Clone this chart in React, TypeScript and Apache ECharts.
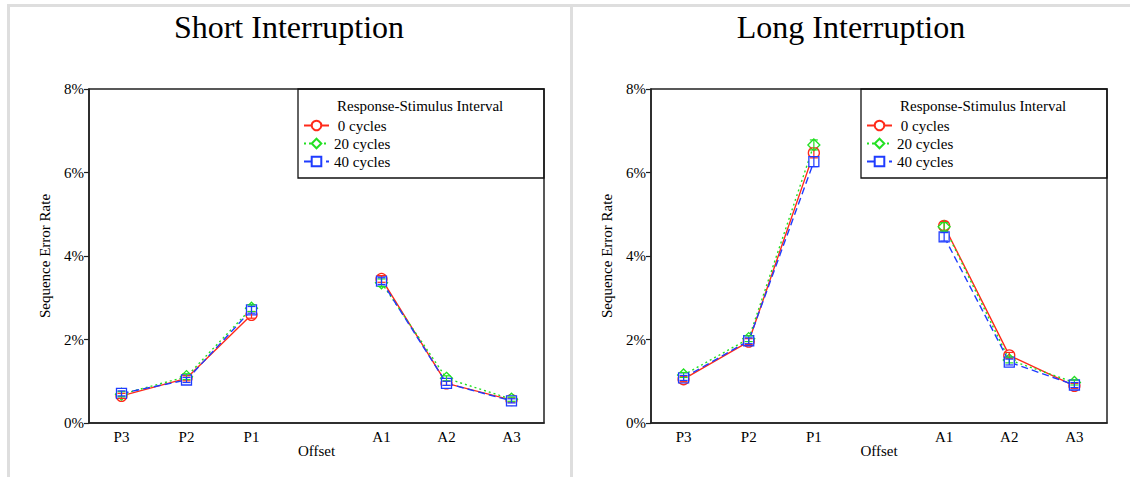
import React, { useEffect, useRef } from 'react';
import * as echarts from 'echarts';

const offsets = ['P3', 'P2', 'P1', '', 'A1', 'A2', 'A3'];
const seriesNames = ['0 cycles', '20 cycles', '40 cycles'];
const panelTitles = ['Short Interruption', 'Long Interruption'];
const yTicks = [0, 2, 4, 6, 8];

const shortRed = [0.65, 1.07, 2.59, null, 3.45, 0.95, 0.55];
const shortGreen = [0.69, 1.11, 2.75, null, 3.36, 1.07, 0.57];
const shortBlue = [0.71, 1.03, 2.71, null, 3.40, 0.95, 0.53];
const shortRedErr = [0.06, 0.06, 0.08, null, 0.08, 0.05, 0.05];
const shortGreenErr = [0.06, 0.07, 0.08, null, 0.09, 0.06, 0.05];
const shortBlueErr = [0.06, 0.06, 0.08, null, 0.08, 0.05, 0.05];

const longRed = [1.05, 1.95, 6.47, null, 4.72, 1.62, 0.89];
const longGreen = [1.15, 2.02, 6.66, null, 4.70, 1.51, 0.97];
const longBlue = [1.08, 1.97, 6.26, null, 4.46, 1.46, 0.91];
const longRedErr = [0.06, 0.07, 0.12, null, 0.1, 0.07, 0.06];
const longGreenErr = [0.06, 0.07, 0.12, null, 0.1, 0.07, 0.06];
const longBlueErr = [0.06, 0.07, 0.12, null, 0.1, 0.07, 0.06];

const COLORS = ['#ff2a1a', '#22e022', '#1f3cff'];
const SYMBOLS = ['circle', 'diamond', 'rect'];
const SYMSIZE = [11, 12, 10];
const DASH: any[] = ['solid', [2, 3], [7, 4]];
const FONT = '"Liberation Serif", "Times New Roman", serif';

export default function App() {
  const ref = useRef<HTMLDivElement>(null);
  useEffect(() => {
    if (!ref.current) return;
    const chart = echarts.init(ref.current, null, { renderer: 'svg' });

    const panels = [
      { vals: [shortRed, shortGreen, shortBlue], errs: [shortRedErr, shortGreenErr, shortBlueErr] },
      { vals: [longRed, longGreen, longBlue], errs: [longRedErr, longGreenErr, longBlueErr] },
    ];
    const grids = [
      { left: 89, right: 586, top: 89, bottom: 54 },
      { left: 651, right: 23, top: 89, bottom: 54 },
    ];
    const gridPx = [
      { l: 89, r: 544 },
      { l: 651, r: 1107 },
    ];
    const panelCenters = [289, 851];

    const xAxes: any[] = [];
    const yAxes: any[] = [];
    const series: any[] = [];
    const legends: any[] = [];
    const graphics: any[] = [
      { type: 'rect', shape: { x: 7, y: 4, width: 1123, height: 3 }, style: { fill: '#dedede' }, silent: true },
      { type: 'rect', shape: { x: 7, y: 4, width: 3, height: 473 }, style: { fill: '#dedede' }, silent: true },
      { type: 'rect', shape: { x: 570, y: 4, width: 3, height: 473 }, style: { fill: '#dedede' }, silent: true },
    ];

    panels.forEach((p, gi) => {
      xAxes.push({
        type: 'category',
        gridIndex: gi,
        data: offsets,
        boundaryGap: true,
        name: 'Offset',
        nameLocation: 'middle',
        nameGap: 20,
        nameMoveOverlap: false,
        nameTextStyle: { fontFamily: FONT, fontSize: 15, color: '#000' },
        axisLine: { lineStyle: { color: '#222', width: 1.5 } },
        axisTick: {
          alignWithLabel: true,
          length: 5,
          interval: (i: number, v: string) => v !== '',
          lineStyle: { color: '#222', width: 1.2 },
        },
        axisLabel: { fontFamily: FONT, fontSize: 15, color: '#000', margin: 6, interval: 0 },
        splitLine: { show: false },
      });
      yAxes.push({
        type: 'value',
        gridIndex: gi,
        min: yTicks[0],
        max: yTicks[yTicks.length - 1],
        interval: 2,
        name: 'Sequence Error Rate',
        nameLocation: 'middle',
        nameGap: 37,
        nameMoveOverlap: false,
        nameTextStyle: { fontFamily: FONT, fontSize: 15, color: '#000' },
        axisLine: { show: true, lineStyle: { color: '#222', width: 1.5 } },
        axisTick: { show: true, length: 5, lineStyle: { color: '#222', width: 1.2 } },
        axisLabel: { fontFamily: FONT, fontSize: 15, color: '#000', margin: 5, formatter: '{value}%' },
        splitLine: { show: false },
      });

      p.vals.forEach((vals, si) => {
        series.push({
          type: 'line',
          name: seriesNames[si],
          xAxisIndex: gi,
          yAxisIndex: gi,
          data: vals.map((v) => (v === null ? '-' : v)),
          connectNulls: false,
          symbol: SYMBOLS[si],
          symbolSize: SYMSIZE[si],
          showAllSymbol: true,
          itemStyle: { color: '#fff', borderColor: COLORS[si], borderWidth: 1.3 },
          lineStyle: { color: COLORS[si], width: 1.4, type: DASH[si] },
          z: 3 + si,
        });
      });
      p.vals.forEach((vals, si) => {
        const errs = p.errs[si];
        const data: any[] = [];
        vals.forEach((v, i) => {
          if (v !== null && errs[i] !== null) data.push([i, v - (errs[i] as number), v + (errs[i] as number)]);
        });
        const color = COLORS[si];
        series.push({
          type: 'custom',
          name: 'err-' + gi + '-' + si,
          xAxisIndex: gi,
          yAxisIndex: gi,
          data,
          z: 6,
          silent: true,
          renderItem: (params: any, api: any) => {
            const x = api.value(0);
            const top = api.coord([x, api.value(2)]);
            const bot = api.coord([x, api.value(1)]);
            const w = 4;
            const st = { stroke: color, lineWidth: 1.2 };
            return {
              type: 'group',
              children: [
                { type: 'line', shape: { x1: top[0], y1: top[1], x2: bot[0], y2: bot[1] }, style: st },
                { type: 'line', shape: { x1: top[0] - w, y1: top[1], x2: top[0] + w, y2: top[1] }, style: st },
                { type: 'line', shape: { x1: bot[0] - w, y1: bot[1], x2: bot[0] + w, y2: bot[1] }, style: st },
              ],
            };
          },
        });
      });

      const boxLeft = gridPx[gi].r - 246;
      legends.push({
        data: seriesNames,
        orient: 'vertical',
        left: boxLeft + 5,
        top: 118,
        itemWidth: 25,
        itemHeight: 12,
        itemGap: 3,
        padding: 0,
        selectedMode: false,
        formatter: (n: string) => (n === '0 cycles' ? ' 0 cycles' : n),
        textStyle: { fontFamily: FONT, fontSize: 15, color: '#000', lineHeight: 15 },
      });
      graphics.push({
        type: 'rect',
        shape: { x: boxLeft, y: 89, width: 246, height: 89 },
        style: { fill: 'none', stroke: '#111', lineWidth: 1.3 },
        z: 10,
        silent: true,
      });
      graphics.push({
        type: 'text',
        x: boxLeft + 39,
        y: 106,
        style: { text: 'Response-Stimulus Interval', fontFamily: FONT, fontSize: 15, fill: '#000', align: 'left', verticalAlign: 'middle' },
        z: 10,
        silent: true,
      });
      graphics.push({
        type: 'text',
        x: panelCenters[gi],
        y: 27,
        style: { text: panelTitles[gi], fontFamily: FONT, fontSize: 32, fill: '#000', align: 'center', verticalAlign: 'middle' },
        silent: true,
      });
    });

    chart.setOption({
      animation: false,
      backgroundColor: '#fff',
      grid: grids.map((g) => ({ ...g, show: true, borderColor: '#222', borderWidth: 1.5, backgroundColor: 'transparent' })),
      xAxis: xAxes,
      yAxis: yAxes,
      legend: legends,
      series,
      graphic: graphics,
    });
    return () => chart.dispose();
  }, []);

  return <div ref={ref} style={{ position: 'fixed', left: 0, top: 0, width: 1130, height: 477 }} />;
}
